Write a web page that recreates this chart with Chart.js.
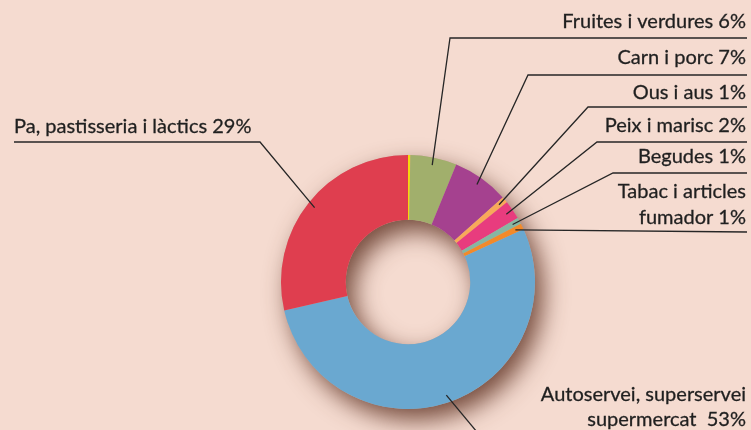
<!DOCTYPE html>
<html>
<head>
<meta charset="utf-8">
<script src="https://cdn.jsdelivr.net/npm/chart.js@4"></script>
<style>
  html, body { margin: 0; padding: 0; background: #f5dbd0; }
  #wrap { width: 751px; height: 430px; }
</style>
</head>
<body>
<div id="wrap"><canvas id="myChart" width="751" height="430"></canvas></div>
<script>
// slices, clockwise from the top
var categories = ['', 'Fruites i verdures', 'Carn i porc', 'Ous i aus', 'Peix i marisc', 'Begudes',
    'Tabac i articles fumador', 'Autoservei, superservei supermercat', 'Pa, pastisseria i làctics'];
var shares = [0.3, 5.9, 7.2, 0.8, 2.4, 0.8, 0.8, 53.2, 28.6];
var percents = [null, 6, 7, 1, 2, 1, 1, 53, 29];
var colors = ['#f4d90c', '#a1af6c', '#a5418f', '#f8a95a', '#e83c7e', '#87b6a2', '#f28a2a', '#6aa8d0', '#df3e4f'];

// text lines of each callout (null = no callout)
var calloutText = [
    null,
    ['Fruites i verdures 6%'],
    ['Carn i porc 7%'],
    ['Ous i aus 1%'],
    ['Peix i marisc 2%'],
    ['Begudes 1%'],
    ['Tabac i articles', 'fumador 1%'],
    ['Autoservei, superservei', 'supermercat  53%'],
    ['Pa, pastisseria i làctics 29%']
];
// callout layout: text x, alignment, text line y's, elbow of leader, end of underline
var calloutLayout = [
    null,
    { x: 746, align: 'right', ys: [22], elbow: [450, 38], end: [747, 38] },
    { x: 746, align: 'right', ys: [58], elbow: [528, 75], end: [747, 75] },
    { x: 746, align: 'right', ys: [93], elbow: [588, 107], end: [747, 107] },
    { x: 746, align: 'right', ys: [126], elbow: [597, 142], end: [747, 142] },
    { x: 746, align: 'right', ys: [157], elbow: [613, 173], end: [747, 173] },
    { x: 746, align: 'right', ys: [192, 218], elbow: null, end: [747, 232] },
    { x: 746, align: 'right', ys: [395, 420], elbow: null, end: [477, 432] },
    { x: 14, align: 'left', ys: [127], elbow: [260, 142], end: [14, 142] }
];

var ringShadow = {
    id: 'ringShadow',
    beforeDatasetsDraw: function(chart) {
        var arc = chart.getDatasetMeta(0).data[0];
        if (!arc) return;
        var ctx = chart.ctx;
        ctx.save();
        ctx.shadowColor = 'rgba(95, 50, 35, 0.85)';
        ctx.shadowBlur = 24;
        ctx.shadowOffsetX = 8;
        ctx.shadowOffsetY = 11;
        ctx.fillStyle = '#c9a89c';
        ctx.beginPath();
        ctx.arc(arc.x, arc.y, arc.outerRadius, 0, Math.PI * 2);
        ctx.arc(arc.x, arc.y, arc.innerRadius, Math.PI * 2, 0, true);
        ctx.fill('evenodd');
        ctx.restore();
    }
};

var callouts = {
    id: 'callouts',
    afterDatasetsDraw: function(chart) {
        var ctx = chart.ctx;
        var arcs = chart.getDatasetMeta(0).data;
        ctx.save();
        ctx.strokeStyle = '#262626';
        ctx.fillStyle = '#1f1f1f';
        ctx.font = '20px Lato, "Open Sans", sans-serif';
        ctx.textBaseline = 'middle';
        arcs.forEach(function(arc, i) {
            var lay = calloutLayout[i];
            if (!lay) return;
            var mid = (arc.startAngle + arc.endAngle) / 2;
            var r = arc.outerRadius * 0.94;
            var sx = arc.x + Math.cos(mid) * r;
            var sy = arc.y + Math.sin(mid) * r;
            ctx.lineWidth = 1.3;
            ctx.beginPath();
            ctx.moveTo(sx, sy);
            if (lay.elbow) ctx.lineTo(lay.elbow[0], lay.elbow[1]);
            ctx.lineTo(lay.end[0], lay.end[1]);
            ctx.stroke();
            ctx.textAlign = lay.align;
            ctx.lineWidth = 0.3; // a bit heavier text
            calloutText[i].forEach(function(t, k) {
                ctx.fillText(t, lay.x, lay.ys[k]);
                ctx.strokeText(t, lay.x, lay.ys[k]);
            });
        });
        ctx.restore();
    }
};

var ctx = document.getElementById('myChart').getContext('2d');
var myChart = new Chart(ctx, {
    type: 'doughnut',
    data: {
        labels: categories,
        datasets: [{
            data: shares,
            backgroundColor: colors,
            borderWidth: 0
        }]
    },
    options: {
        responsive: false,
        animation: false,
        cutout: '49%',
        layout: { padding: { left: 281, right: 216, top: 155, bottom: 21 } },
        plugins: {
            legend: { display: false },
            tooltip: { enabled: false }
        }
    },
    plugins: [ringShadow, callouts]
});
</script>
</body>
</html>
